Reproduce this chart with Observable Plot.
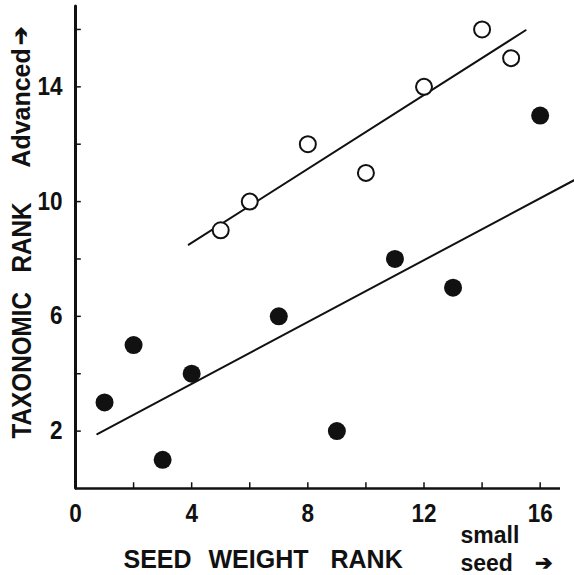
<!DOCTYPE html>
<html>
<head>
<meta charset="utf-8">
<script src="https://cdn.jsdelivr.net/npm/d3@7"></script>
<script src="https://cdn.jsdelivr.net/npm/@observablehq/plot@0.6"></script>
<style>
  html, body { margin: 0; padding: 0; background: #fff; }
  #chart svg { display: block; }
</style>
</head>
<body>
<div id="chart"></div>
<script>
// Filled circles (lower group)
const filledX = [1, 2, 3, 4, 7, 9, 11, 13, 16];
const filledY = [3, 5, 1, 4, 6, 2, 8, 7, 13];
// Open circles (advanced group)
const openX = [5, 6, 8, 10, 12, 14, 15];
const openY = [9, 10, 12, 11, 14, 16, 15];
// Extents of the fitted lines (x)
const filledLineX = [0.75, 17.4];
const openLineX = [3.9, 15.5];
// Ticks
const xTickLabels = [0, 4, 8, 12, 16];
const yTickLabels = [2, 6, 10, 14];
const xMinorTicks = [2, 4, 6, 8, 10, 12, 14, 16];
const yMinorTicks = [2, 4, 6, 8, 10, 12, 14, 16];

function fitLine(xs, ys, ext) {
  const mx = d3.mean(xs), my = d3.mean(ys);
  const sxy = d3.sum(xs, (x, i) => (x - mx) * (ys[i] - my));
  const sxx = d3.sum(xs, x => (x - mx) ** 2);
  const b = sxy / sxx, a = my - b * mx;
  return ext.map(x => ({x, y: a + b * x}));
}

const filled = filledX.map((x, i) => ({x, y: filledY[i]}));
const open = openX.map((x, i) => ({x, y: openY[i]}));
const filledLine = fitLine(filledX, filledY, filledLineX);
const openLine = fitLine(openX, openY, openLineX);

const ink = "#111";
const font = "'Liberation Sans', Arial, Helvetica, sans-serif";
const bold = {fontWeight: "bold", fill: ink};

const chart = Plot.plot({
  width: 574,
  height: 575,
  marginLeft: 75,
  marginRight: 14,
  marginTop: 6,
  marginBottom: 87,
  x: {domain: [0, 16.7], axis: null},
  y: {domain: [0, 16.8], axis: null},
  style: {fontFamily: font, background: "#fff", color: ink},
  marks: [
    // axes
    Plot.ruleX([0], {y1: 0, y2: 16.8, stroke: ink, strokeWidth: 3, strokeLinecap: "round"}),
    Plot.ruleY([0], {x1: 0, x2: 16.7, stroke: ink, strokeWidth: 2.5}),
    // inward ticks
    Plot.ruleY(yMinorTicks, {y: d => d, x1: 0, x2: 0.2, stroke: ink, strokeWidth: 1.5}),
    Plot.ruleX(xMinorTicks, {x: d => d, y1: 0, y2: 0.2, stroke: ink, strokeWidth: 1.5}),
    // tick labels
    Plot.text(yTickLabels, {x: 0, y: d => d, text: d => String(d), dx: -13, textAnchor: "end", lineAnchor: "middle", fontSize: 25, ...bold}),
    Plot.text(xTickLabels, {x: d => d, y: 0, text: d => String(d), dy: 33, textAnchor: "middle", lineAnchor: "bottom", fontSize: 25, ...bold}),
    // fitted lines
    Plot.line(filledLine, {x: "x", y: "y", stroke: ink, strokeWidth: 2}),
    Plot.line(openLine, {x: "x", y: "y", stroke: ink, strokeWidth: 2}),
    // points
    Plot.dot(open, {x: "x", y: "y", r: 8, fill: "#fff", stroke: ink, strokeWidth: 2}),
    Plot.dot(filled, {x: "x", y: "y", r: 9, fill: ink, stroke: "none"}),
    // x title
    Plot.text(["SEED"], {frameAnchor: "bottom-left", dx: 48, dy: 79, textAnchor: "start", lineAnchor: "bottom", fontSize: 25, ...bold}),
    Plot.text(["WEIGHT"], {frameAnchor: "bottom-left", dx: 133, dy: 79, textAnchor: "start", lineAnchor: "bottom", fontSize: 25, ...bold}),
    Plot.text(["RANK"], {frameAnchor: "bottom-left", dx: 255, dy: 79, textAnchor: "start", lineAnchor: "bottom", fontSize: 25, ...bold}),
    Plot.text(["small"], {frameAnchor: "bottom-left", dx: 385, dy: 54, textAnchor: "start", lineAnchor: "bottom", fontSize: 23, ...bold}),
    Plot.text(["seed"], {frameAnchor: "bottom-left", dx: 385, dy: 82, textAnchor: "start", lineAnchor: "bottom", fontSize: 23, ...bold}),
    Plot.text(["\u2794"], {frameAnchor: "bottom-left", dx: 459, dy: 75, textAnchor: "start", lineAnchor: "middle", fontSize: 21, ...bold}),
    // y title
    Plot.text(["TAXONOMIC"], {frameAnchor: "bottom-left", dx: -53, dy: -50, rotate: -90, textAnchor: "start", lineAnchor: "middle", fontSize: 27, ...bold}),
    Plot.text(["RANK"], {frameAnchor: "bottom-left", dx: -53, dy: -216, rotate: -90, textAnchor: "start", lineAnchor: "middle", fontSize: 27, ...bold}),
    Plot.text(["Advanced"], {frameAnchor: "top-left", dx: -54, dy: 161, rotate: -90, textAnchor: "start", lineAnchor: "middle", fontSize: 26, ...bold}),
    Plot.text(["\u2794"], {frameAnchor: "top-left", dx: -55, dy: 38, rotate: -90, textAnchor: "start", lineAnchor: "middle", fontSize: 22, ...bold})
  ]
});

// Condense the lettering to match the narrow print type of the original
const condense = {"TAXONOMIC": 0.9, "RANK": 0.9, "Advanced": 0.96, "0": 0.9, "2": 0.9, "4": 0.9, "6": 0.9, "8": 0.9, "10": 0.9, "12": 0.9, "14": 0.9, "16": 0.9};
d3.select(chart).selectAll("text").each(function() {
  const t = this.textContent;
  const tr = this.getAttribute("transform");
  if (condense[t] && tr && tr.includes("translate")) {
    const isY = tr.includes("rotate");
    if (t === "RANK" && !isY) return;
    this.setAttribute("transform", tr + ` scale(${condense[t]},1)`);
  }
});
document.getElementById("chart").appendChild(chart);
</script>
</body>
</html>
